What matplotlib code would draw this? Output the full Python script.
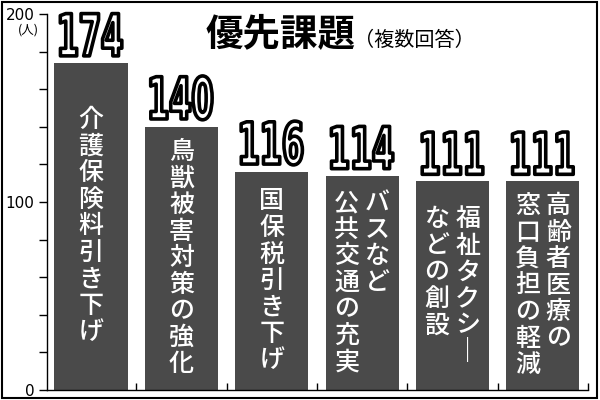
import matplotlib
matplotlib.use('Agg')
import matplotlib.pyplot as plt
from matplotlib.patches import Rectangle, PathPatch
from matplotlib.textpath import TextPath
from matplotlib.font_manager import FontProperties
from matplotlib.transforms import Affine2D, ScaledTranslation

plt.rcParams['font.family'] = ['Noto Sans CJK JP', 'DejaVu Sans']

# 優先課題（複数回答）, 単位: 人
labels = [
    '介護保険料引き下げ',
    '鳥獣被害対策の強化',
    '国保税引き下げ',
    'バスなど\n公共交通の充実',
    '福祉タクシー\nなどの創設',
    '高齢者医療の\n窓口負担の軽減',
]
values = [174, 140, 116, 114, 111, 111]
yticks = [0, 100, 200]

bar_color = '#4a4a4a'

fig = plt.figure(figsize=(6, 4), dpi=100)
ax = fig.add_axes([0.078, 0.025, 0.902, 0.94])

xs = range(len(values))
ax.bar(xs, values, width=0.81, color=bar_color)
ax.set_xlim(-0.49, len(values) - 0.5)
ax.set_ylim(0, 200)

# 軸まわり
for side in ('top', 'right'):
    ax.spines[side].set_visible(False)
ax.spines['left'].set_linewidth(1)
ax.spines['bottom'].set_linewidth(1)
ax.set_yticks(yticks)
ax.set_yticklabels([str(v) for v in yticks], family='DejaVu Sans', fontsize=11)
ax.set_yticks(range(0, 201, 20), minor=True)
ax.tick_params(axis='y', which='both', length=6, width=1, pad=3)
ax.set_xticks([i + 0.5 for i in xs])
ax.set_xticklabels([])
ax.tick_params(axis='x', direction='in', length=5, width=1)
ax.annotate('(人)', xy=(0, 200), xycoords=('axes fraction', 'data'),
            xytext=(-6, -7), textcoords='offset points',
            ha='right', va='top', fontsize=9)

# 数値ラベル（白抜き・長体）
num_prop = FontProperties(family='DejaVu Sans', weight='bold')
for x, v in zip(xs, values):
    tp = TextPath((0, 0), str(v), size=58, prop=num_prop)
    ext = tp.get_extents()
    trans = (Affine2D().translate(-(ext.x0 + ext.x1) / 2, -ext.y0 + 7)
             .scale(0.55, 1)
             + ScaledTranslation(x, v, ax.transData))
    ax.add_patch(PathPatch(tp, transform=trans, fc='white', ec='black',
                           lw=2.6, joinstyle='round', clip_on=False, zorder=5))

# 棒の中の縦書き
px_per_unit = ax.bbox.height / 200
pitch = 26.5 / px_per_unit
col_gap = 0.17
for x, v, lab in zip(xs, values, labels):
    cols = lab.split('\n')
    n = max(len(c) for c in cols)
    top = v / 2 + n * pitch / 2
    for k, col in enumerate(cols):
        if len(cols) == 2:
            cx = x + col_gap if k == 0 else x - col_gap
        else:
            cx = x
        for i, ch in enumerate(col):
            if ch == 'ー':
                ch = '｜'
            ax.text(cx, top - (i + 0.5) * pitch, ch, ha='center', va='center',
                    fontsize=18, weight='medium', color='white')

# タイトル
fig.text(0.342, 0.885, '優先課題', fontsize=27, weight='bold', va='baseline')
fig.text(0.590, 0.885, '（複数回答）', fontsize=14.5, va='baseline')

# 外枠
fig.patches.append(Rectangle((0.0033, 0.006), 0.9917, 0.989, transform=fig.transFigure,
                             fill=False, ec='black', lw=1.5))

fig.savefig('out.png', dpi=100)
